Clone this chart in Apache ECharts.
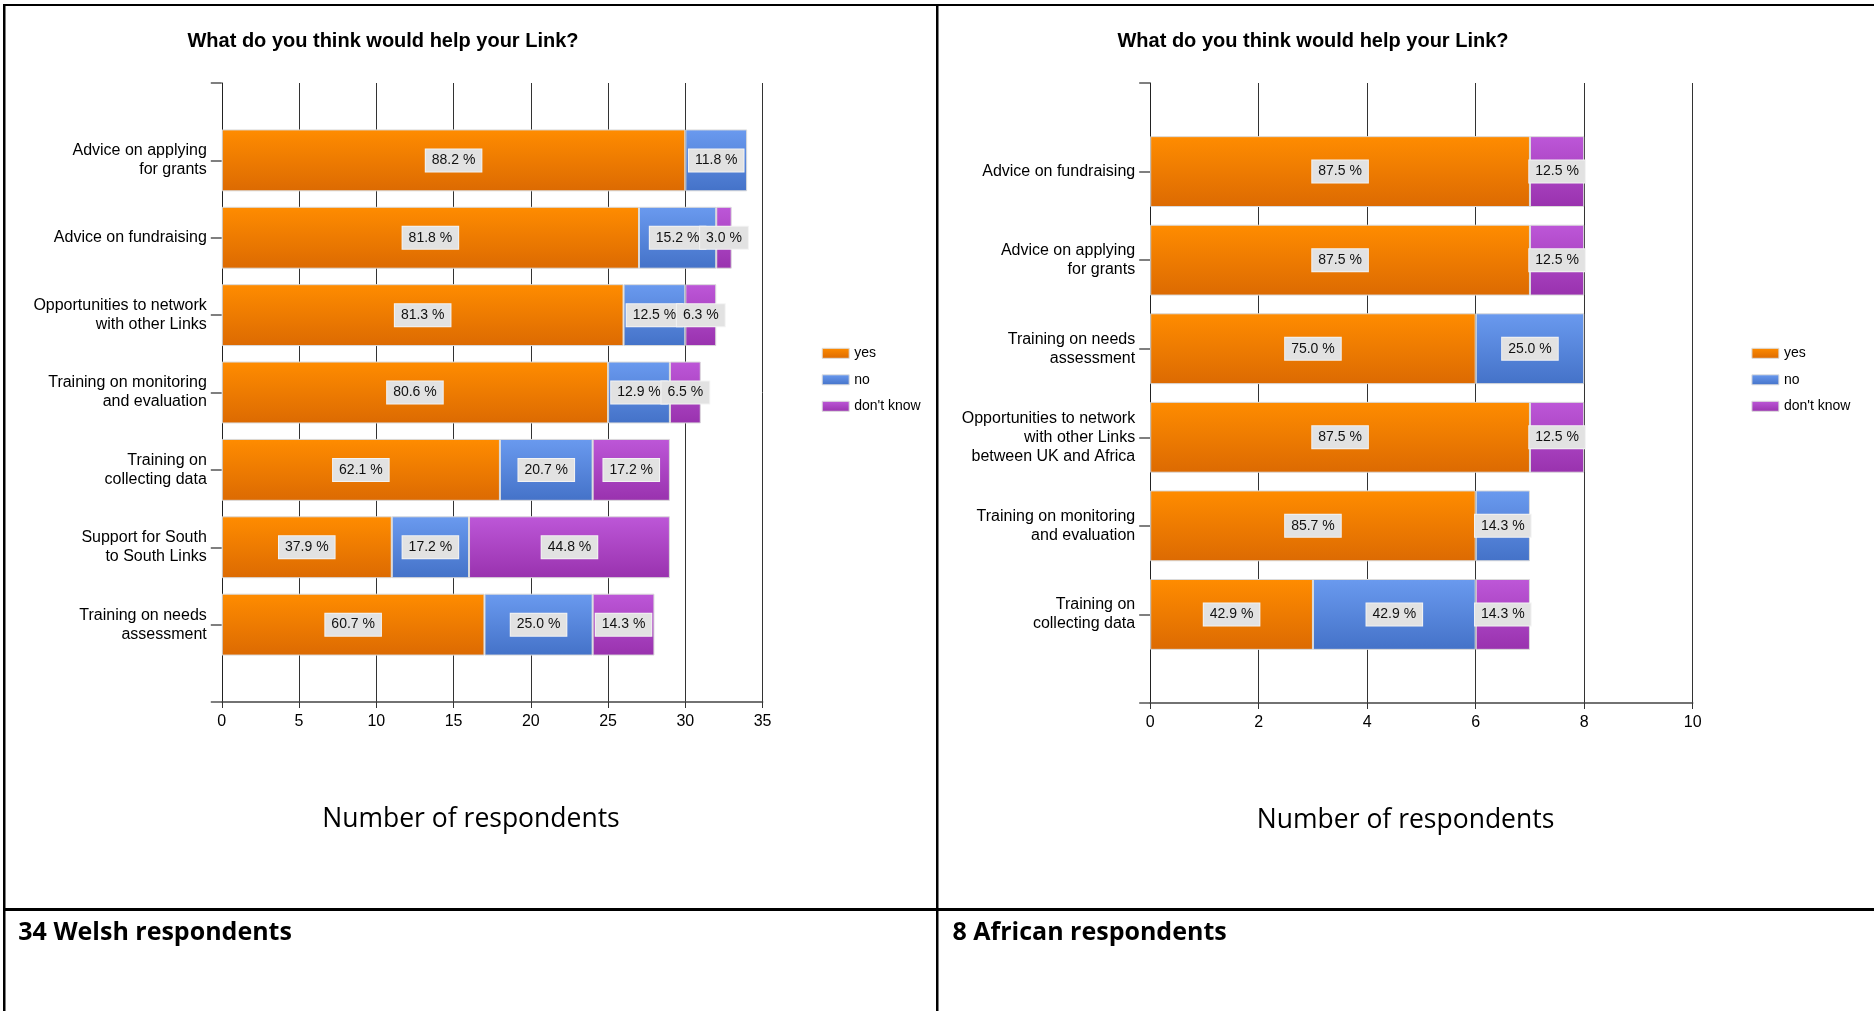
<!DOCTYPE html>
<html>
<head>
<meta charset="utf-8">
<title>What do you think would help your Link?</title>
<script src="https://cdn.jsdelivr.net/npm/echarts@6/dist/echarts.min.js"></script>
<style>
  html, body { margin: 0; padding: 0; background: #ffffff; }
  #chart { width: 1874px; height: 1011px; }
</style>
</head>
<body>
<div id="chart"></div>
<script>
// ---- Survey data: number of respondents giving each answer ----

// Welsh links (34 respondents)
const welshCategories = [
  'Advice on applying\nfor grants',
  'Advice on fundraising',
  'Opportunities to network\nwith other Links',
  'Training on monitoring\nand evaluation',
  'Training on\ncollecting data',
  'Support for South\nto South Links',
  'Training on needs\nassessment'
];
const welshYes      = [30, 27, 26, 25, 18, 11, 17];
const welshNo       = [4, 5, 4, 4, 6, 5, 7];
const welshDontKnow = [null, 1, 2, 2, 5, 13, 4];
const welshAxisMax = 35;
const welshAxisStep = 5;

// African links (8 respondents)
const africanCategories = [
  'Advice on fundraising',
  'Advice on applying\nfor grants',
  'Training on needs\nassessment',
  'Opportunities to network\nwith other Links\nbetween UK and Africa',
  'Training on monitoring\nand evaluation',
  'Training on\ncollecting data'
];
const africanYes      = [7, 7, 6, 7, 6, 3];
const africanNo       = [null, null, 2, null, 1, 3];
const africanDontKnow = [1, 1, null, 1, null, 1];
const africanAxisMax = 10;
const africanAxisStep = 2;

const answerNames = ['yes', 'no', "don't know"];
const titleText = 'What do you think would help your Link?';
const axisTitle = 'Number of respondents';
const welshCaption = '34 Welsh respondents';
const africanCaption = '8 African respondents';

// ---- Styling ----
const FONT = "'Liberation Sans', Arial, sans-serif";
const DOC_FONT = "'Open Sans', 'Noto Sans', sans-serif";

function vGrad(top, bottom) {
  return new echarts.graphic.LinearGradient(0, 0, 0, 1, [
    { offset: 0, color: top },
    { offset: 1, color: bottom }
  ]);
}
const answerColors = [
  ['#ff8c00', '#dc6a02'],   // yes
  ['#6a9aef', '#4472c8'],   // no
  ['#bd57d8', '#9932ae']    // don't know
];

function rowTotals(cols) {
  return cols[0].map((_, i) => cols.reduce((s, c) => s + (c[i] || 0), 0));
}

function makeSeries(cols, totals, axisIndex, stackId) {
  return cols.map((values, k) => ({
    type: 'bar',
    name: answerNames[k],
    data: values,
    stack: stackId,
    xAxisIndex: axisIndex,
    yAxisIndex: axisIndex,
    barCategoryGap: '20%',
    itemStyle: {
      color: vGrad(answerColors[k][0], answerColors[k][1]),
      borderColor: '#dadada',
      borderWidth: 1
    },
    emphasis: { disabled: true },
    label: {
      show: true,
      position: 'inside',
      formatter: p => (p.value / totals[p.dataIndex] * 100).toFixed(1) + ' %',
      color: '#111',
      fontFamily: FONT,
      fontSize: 14,
      lineHeight: 16,
      backgroundColor: '#e2e2e2',
      borderColor: '#f3f3f3',
      borderWidth: 1,
      padding: [3, 6],
      textBorderWidth: 0
    }
  }));
}

// Frame axes: value axis with grid lines, plus a slot axis giving the category ticks
function frameAxes(gridIndex, max, step, slots) {
  const x = {
    type: 'value', gridIndex, min: 0, max, interval: step, position: 'bottom',
    axisLine: { show: true, onZero: false, lineStyle: { color: '#444', width: 1.5 } },
    axisTick: { show: true, length: 6, lineStyle: { color: '#333', width: 1 } },
    axisLabel: { show: true, color: '#000', fontFamily: FONT, fontSize: 16, margin: 12 },
    splitLine: { show: true, lineStyle: { color: '#333', width: 1 } }
  };
  const y = {
    type: 'value', gridIndex, min: 0, max: slots, interval: 1, inverse: true, position: 'left',
    axisLine: { show: true, onZero: false, lineStyle: { color: '#222', width: 1 } },
    axisTick: { show: true, length: 11, lineStyle: { color: '#555', width: 1.5 } },
    axisLabel: { show: false },
    splitLine: { show: false }
  };
  return [x, y];
}
function barAxes(gridIndex, max, categories) {
  const x = { type: 'value', gridIndex, min: 0, max, show: false, splitLine: { show: false } };
  const y = {
    type: 'category', gridIndex, data: categories, inverse: true,
    axisLine: { show: false, onZero: false }, axisTick: { show: false },
    splitLine: { show: false },
    axisLabel: {
      color: '#000', fontFamily: FONT, fontSize: 16, lineHeight: 19,
      margin: 15, align: 'right'
    }
  };
  return [x, y];
}

const welshCols = [welshYes, welshNo, welshDontKnow];
const africanCols = [africanYes, africanNo, africanDontKnow];
const welshTotals = rowTotals(welshCols);
const africanTotals = rowTotals(africanCols);

// Plot boxes (one empty half slot above and below the bars)
const L = { left: 221.8, top: 83, width: 540.8, height: 619 };
const R = { left: 1150.2, top: 83, width: 542.5, height: 620 };
const lSlot = L.height / (welshCategories.length + 1);
const rSlot = R.height / (africanCategories.length + 1);

const [lfx, lfy] = frameAxes(0, welshAxisMax, welshAxisStep, welshCategories.length + 1);
const [lbx, lby] = barAxes(1, welshAxisMax, welshCategories);
const [rfx, rfy] = frameAxes(2, africanAxisMax, africanAxisStep, africanCategories.length + 1);
const [rbx, rby] = barAxes(3, africanAxisMax, africanCategories);

function legendAt(left) {
  return {
    left, top: 345.3, orient: 'vertical', padding: 0,
    icon: 'rect', itemWidth: 27, itemHeight: 10, itemGap: 10.5,
    selectedMode: false,
    data: answerNames,
    itemStyle: { borderColor: '#dddddd', borderWidth: 1 },
    textStyle: { color: '#000', fontFamily: FONT, fontSize: 14, lineHeight: 16 }
  };
}

function titleAt(center) {
  return {
    text: titleText, left: center, top: 31, textAlign: 'center', padding: 0,
    textStyle: { color: '#000', fontFamily: FONT, fontSize: 20, fontWeight: 'bold' }
  };
}

function docText(x, y, text, bold, align, size) {
  return {
    type: 'text', x, y, silent: true,
    style: {
      text, fill: '#000', align, verticalAlign: 'middle',
      font: (bold ? 'bold ' : '') + size + 'px ' + DOC_FONT
    }
  };
}
function rule(x, y, w, h) {
  return { type: 'rect', silent: true, shape: { x, y, width: w, height: h }, style: { fill: '#000' } };
}

const option = {
  backgroundColor: '#ffffff',
  animation: false,
  title: [titleAt(383), titleAt(1313)],
  legend: [legendAt(821.7), legendAt(1751.4)],
  grid: [
    { left: L.left, top: L.top, width: L.width, height: L.height, outerBoundsMode: 'none' },
    { left: L.left, top: L.top + lSlot / 2, width: L.width, height: L.height - lSlot, outerBoundsMode: 'none' },
    { left: R.left, top: R.top, width: R.width, height: R.height, outerBoundsMode: 'none' },
    { left: R.left, top: R.top + rSlot / 2, width: R.width, height: R.height - rSlot, outerBoundsMode: 'none' }
  ],
  xAxis: [lfx, lbx, rfx, rbx],
  yAxis: [lfy, lby, rfy, rby],
  series: [
    ...makeSeries(welshCols, welshTotals, 1, 'welsh'),
    ...makeSeries(africanCols, africanTotals, 3, 'african')
  ],
  graphic: [
    // table rules
    rule(3, 4, 1871, 2),
    rule(3, 4, 2.5, 1007),
    rule(936, 4, 2.5, 1007),
    rule(3, 908, 1871, 3),
    // axis captions and respondent counts
    docText(471, 819.4, axisTitle, false, 'center', 26.5),
    docText(1405.6, 820.4, axisTitle, false, 'center', 26.5),
    docText(18.3, 933, welshCaption, true, 'left', 25),
    docText(952.5, 933, africanCaption, true, 'left', 25)
  ]
};

const chart = echarts.init(document.getElementById('chart'), null, { renderer: 'canvas' });
chart.setOption(option);
</script>
</body>
</html>
